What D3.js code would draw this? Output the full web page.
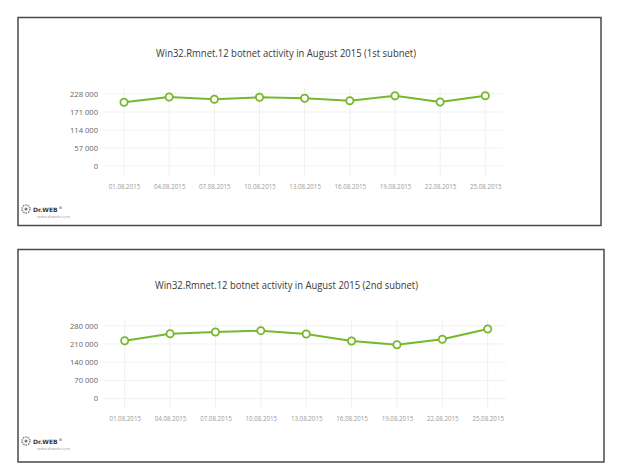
<!DOCTYPE html>
<html>
<head>
<meta charset="utf-8">
<script src="https://cdn.jsdelivr.net/npm/d3@7"></script>
<style>
  html, body { margin: 0; padding: 0; background: #fff; }
  svg { display: block; }
</style>
</head>
<body>
<svg id="chart" width="640" height="469"></svg>
<script>
const dates = ["01.08.2015","04.08.2015","07.08.2015","10.08.2015","13.08.2015","16.08.2015","19.08.2015","22.08.2015","25.08.2015"];
const values1 = [201700, 218500, 211200, 217600, 214400, 206800, 222600, 202700, 222600];
const values2 = [222300, 249200, 255800, 260800, 248100, 221200, 206900, 227700, 267300];
const yTicks1 = [0, 57000, 114000, 171000, 228000];
const yTicks2 = [0, 70000, 140000, 210000, 280000];
const title1 = "Win32.Rmnet.12 botnet activity in August 2015 (1st subnet)";
const title2 = "Win32.Rmnet.12 botnet activity in August 2015 (2nd subnet)";

const svg = d3.select("#chart");
const green = "#76b82a";
const fmt = v => d3.format(",")(v).replace(/,/g, " ");

function drawPanel(cfg) {
  const g = svg.append("g");
  g.append("rect")
    .attr("x", cfg.frame[0]).attr("y", cfg.frame[1])
    .attr("width", cfg.frame[2] - cfg.frame[0]).attr("height", cfg.frame[3] - cfg.frame[1])
    .attr("fill", "#fff").attr("stroke", "#4a4a4a").attr("stroke-width", 1.5);

  g.append("text")
    .attr("x", cfg.titleX).attr("y", cfg.titleY)
    .attr("font-family", "'Open Sans', sans-serif").attr("font-size", 10.2)
    .attr("fill", "#3a3a3a")
    .attr("textLength", cfg.titleW).attr("lengthAdjust", "spacingAndGlyphs")
    .text(cfg.title);

  const x = d3.scalePoint().domain(dates).range(cfg.xRange);
  const y = d3.scaleLinear().domain([0, d3.max(cfg.ticks)]).range(cfg.yRange);

  g.append("g").selectAll("line").data(cfg.ticks).join("line")
    .attr("x1", cfg.gridX[0]).attr("x2", cfg.gridX[1])
    .attr("y1", d => y(d)).attr("y2", d => y(d))
    .attr("stroke", "#eef3ee").attr("stroke-width", 1);

  g.append("g").selectAll("line").data(dates).join("line")
    .attr("x1", d => x(d)).attr("x2", d => x(d))
    .attr("y1", cfg.yRange[1] - 6).attr("y2", cfg.yRange[0] + 10)
    .attr("stroke", "#eef0ee").attr("stroke-width", 1);

  const yAxis = d3.axisLeft(y).tickValues(cfg.ticks).tickFormat(fmt).tickSize(0).tickPadding(0);
  const ya = g.append("g").attr("transform", `translate(${cfg.yLabelX},0)`).call(yAxis);
  ya.select(".domain").remove();
  ya.selectAll("text")
    .attr("font-family", "'Open Sans', sans-serif").attr("font-size", 7.6)
    .attr("fill", "#666");

  const xAxis = d3.axisBottom(x).tickSize(0).tickPadding(0);
  const xa = g.append("g").attr("transform", `translate(0,${cfg.xLabelY})`).call(xAxis);
  xa.select(".domain").remove();
  xa.selectAll("text")
    .attr("font-family", "'Open Sans', sans-serif").attr("font-size", 6.2)
    .attr("fill", "#9a9a9a");

  const line = d3.line().x((d, i) => x(dates[i])).y(d => y(d));
  g.append("path").datum(cfg.values)
    .attr("d", line).attr("fill", "none")
    .attr("stroke", green).attr("stroke-width", 2);

  g.append("g").selectAll("circle").data(cfg.values).join("circle")
    .attr("cx", (d, i) => x(dates[i])).attr("cy", d => y(d))
    .attr("r", 3.6).attr("fill", "#fff")
    .attr("stroke", green).attr("stroke-width", 1.8);

  // logo
  const lg = g.append("g").attr("transform", `translate(${cfg.logo[0]},${cfg.logo[1]})`);
  lg.append("circle").attr("cx", 5).attr("cy", 0).attr("r", 4)
    .attr("fill", "none").attr("stroke", "#777").attr("stroke-width", 1.4)
    .attr("stroke-dasharray", "1.5 1");
  lg.append("circle").attr("cx", 5).attr("cy", 0).attr("r", 1.5).attr("fill", "#777");
  const brand = lg.append("text").attr("x", 12).attr("y", 2.8)
    .attr("font-family", "'DejaVu Sans', sans-serif").attr("font-weight", "bold")
    .attr("font-size", 6).attr("fill", "#3a3a3a");
  brand.append("tspan").text("Dr.WEB");
  brand.append("tspan").attr("font-size", 3.5).attr("font-weight", "normal")
    .attr("dx", 1).attr("dy", -3).text("®");
  lg.append("text").attr("x", 16).attr("y", 9)
    .attr("font-family", "'Open Sans', sans-serif")
    .attr("font-size", 4.2).attr("fill", "#999").text("www.drweb.com");
}

drawPanel({
  frame: [18, 17.5, 601, 225.5],
  title: title1, titleX: 156, titleY: 57, titleW: 260,
  values: values1, ticks: yTicks1,
  xRange: [124, 485.3], yRange: [166, 94],
  gridX: [103, 503],
  yLabelX: 98, xLabelY: 185,
  logo: [21, 209]
});

drawPanel({
  frame: [18, 249.5, 604, 462],
  title: title2, titleX: 155, titleY: 289, titleW: 263,
  values: values2, ticks: yTicks2,
  xRange: [124.7, 487.7], yRange: [398.5, 325.7],
  gridX: [103, 506],
  yLabelX: 98, xLabelY: 417,
  logo: [21, 441]
});
</script>
</body>
</html>
